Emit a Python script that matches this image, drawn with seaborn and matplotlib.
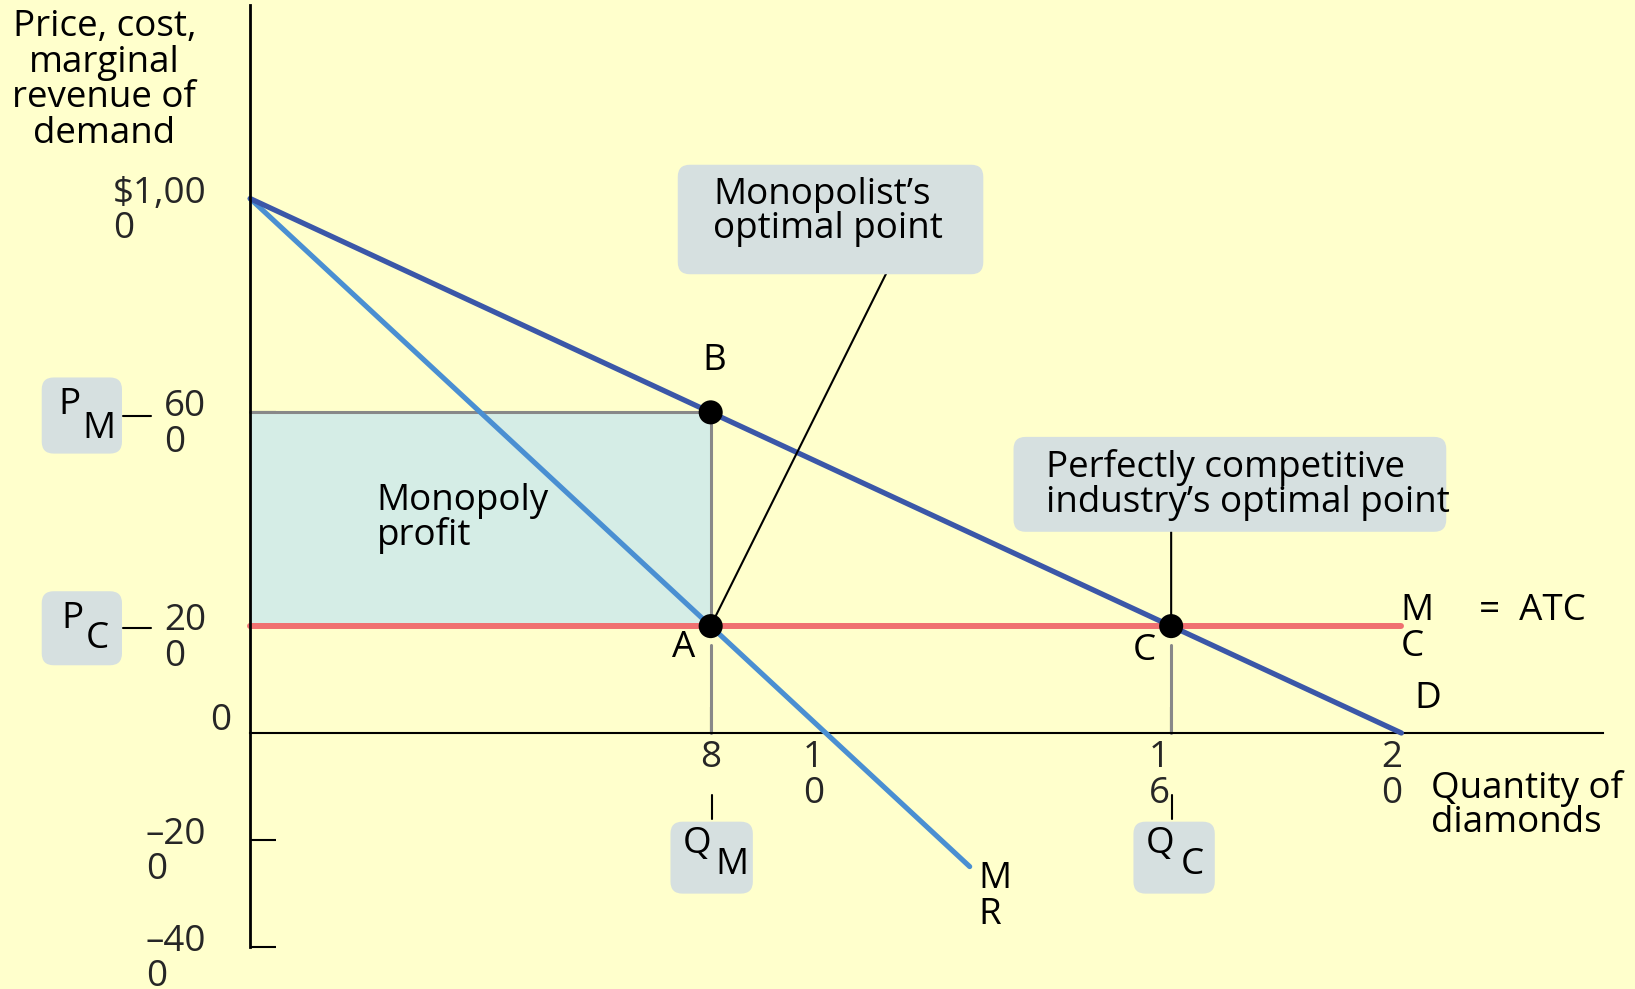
import matplotlib
matplotlib.use("Agg")
import matplotlib.pyplot as plt
import seaborn as sns
import pandas as pd
from matplotlib.patches import FancyBboxPatch
from matplotlib.lines import Line2D
from matplotlib.transforms import ScaledTranslation

# ---------------- data ----------------
demand_q = [0, 20]
demand_p = [1000, 0]
mr_q = [0, 12.5]
mr_p = [1000, -250]
mc_q = [0, 20]
mc_p = [200, 200]
profit_q = [0, 8]
profit_low = 200
profit_high = 600
point_labels = ["B", "A", "C"]
point_q = [8, 8, 16]
point_p = [600, 200, 200]
xtick_vals = [8, 10, 16, 20]
xtick_labels = ["8", "1\n0", "1\n6", "2\n0"]
ytick_vals = [1000, 600, 200, -200, -400]
ytick_labels = ["\\$1,00\n0", "60\n0", "20\n0", "\u201320\n0", "\u201340\n0"]

# ---------------- style ----------------
BG = "#ffffcc"
D_COL = "#3b57a8"
MR_COL = "#4a8fd2"
MC_COL = "#f07070"
FILL = "#d5ede6"
BOX = "#d6e0e0"
GREY = "#888888"

sns.set_theme(style="white")
plt.rcParams["font.family"] = ["Open Sans", "DejaVu Sans"]
FS = 26.5

W, H = 16.35, 9.89
fig = plt.figure(figsize=(W, H), dpi=100, facecolor=BG)
ax = fig.add_axes([0, 0, 1, 1])
ax.set_facecolor(BG)

# geometry (full px): q=0 at 250.2, unit 57.56 px ; p=0 at 733, 0.5344 px/unit
X0, XU = 250.2, 57.56
Y0, YU = 733.0, 0.5344
ax.set_xlim(-X0 / XU, (1635 - X0) / XU)
ax.set_ylim(-(989 - Y0) / YU, Y0 / YU)

S = 1635 / 1568 / 100.0  # inches per reference px


def fi(xs, ys):
    return xs * S, H - ys * S


def T(xs, ys, s, ha="left", va="top", **kw):
    x, y = fi(xs, ys)
    fig.text(x, y, s, ha=ha, va=va, fontsize=kw.pop("fontsize", FS),
             transform=fig.dpi_scale_trans, color="black", **kw)


def box(x1, y1, x2, y2, r=0.12):
    x, yb = fi(x1, y2)
    w = (x2 - x1) * S
    h = (y2 - y1) * S
    p = FancyBboxPatch((x, yb), w, h, boxstyle=f"round,pad=0,rounding_size={r}",
                       transform=fig.dpi_scale_trans, facecolor=BOX,
                       edgecolor="none", zorder=1)
    fig.add_artist(p)


def fline(x1, y1, x2, y2, lw=1.5, color="black"):
    a, b = fi(x1, y1)
    c, d = fi(x2, y2)
    fig.add_artist(Line2D([a, c], [b, d], transform=fig.dpi_scale_trans,
                          color=color, lw=lw, zorder=2))


# profit area
ax.fill_between(profit_q, profit_low, profit_high, color=FILL, lw=0, zorder=1)

# grey guide lines
ax.plot([0, point_q[0]], [profit_high, profit_high], color=GREY, lw=2.2, zorder=2)
ax.plot([point_q[0], point_q[0]], [profit_high, profit_low], color=GREY, lw=2.2, zorder=2)
ax.plot([point_q[1], point_q[1]], [165, 0], color=GREY, lw=2.2, zorder=2)
ax.plot([point_q[2], point_q[2]], [165, 0], color=GREY, lw=2.2, zorder=2)

# curves
sns.lineplot(x=mc_q, y=mc_p, ax=ax, color=MC_COL, lw=4.3, zorder=3)
sns.lineplot(x=mr_q, y=mr_p, ax=ax, color=MR_COL, lw=3.7, zorder=4)
sns.lineplot(x=demand_q, y=demand_p, ax=ax, color=D_COL, lw=3.8, zorder=5)

# points
pts = pd.DataFrame({"q": point_q, "p": point_p, "lab": point_labels})
sns.scatterplot(data=pts, x="q", y="p", ax=ax, color="black", s=300,
                edgecolor="none", zorder=7)
ax.set_xlabel("")
ax.set_ylabel("")

# leader lines
ax.annotate("", xy=(point_q[1], point_p[1]), xycoords="data",
            xytext=fi(850, 262), textcoords=fig.dpi_scale_trans,
            arrowprops=dict(arrowstyle="-", lw=1.5, color="black",
                            shrinkA=0, shrinkB=0), zorder=6)
ax.annotate("", xy=(point_q[2], point_p[2]), xycoords="data",
            xytext=(point_q[2], 377), textcoords="data",
            arrowprops=dict(arrowstyle="-", lw=1.5, color="black",
                            shrinkA=0, shrinkB=0), zorder=6)

# axes spines & ticks
for s in ["top", "right"]:
    ax.spines[s].set_visible(False)
ax.spines["left"].set_position(("data", 0))
ax.spines["bottom"].set_position(("data", 0))
ax.spines["left"].set_bounds(-400, 1362)
ax.spines["bottom"].set_bounds(0, 23.5)
ax.spines["left"].set_linewidth(2.0)
ax.spines["bottom"].set_linewidth(1.5)
ax.spines["left"].set_color("black")
ax.spines["bottom"].set_color("black")
ax.spines["left"].set_zorder(8)
ax.spines["bottom"].set_zorder(2)

ax.set_yticks([600, -200, -400])
ax.set_xticks([8, 16])
ax.tick_params(axis="both", direction="in", length=19, width=1.5, color="black",
               labelleft=False, labelbottom=False, left=True, bottom=True)

# y tick labels
for v, lab in zip(ytick_vals, ytick_labels):
    ax.text(-0.76, v + 43, lab, ha="right", va="top", multialignment="left",
            fontsize=FS, linespacing=0.98)
ax.text(-0.33, -12, "0", ha="right", va="bottom", fontsize=FS)

# x tick labels
x_nudge = [0, -12, -11, -9]
for v, lab, dx in zip(xtick_vals, xtick_labels, x_nudge):
    tr = ax.transData + ScaledTranslation(dx * S, 0, fig.dpi_scale_trans)
    ax.text(v, -14, lab, ha="center", va="top", fontsize=FS,
            linespacing=0.98, transform=tr)

# axis titles
T(100, 9, "Price, cost,\nmarginal\nrevenue of\ndemand", ha="center",
  multialignment="center", linespacing=0.98)
T(1372, 738, "Quantity of\ndiamonds", linespacing=0.95)

# curve / point labels
T(685, 329, "B", ha="center")
T(656, 604, "A", ha="center")
T(1097, 607, "C", ha="center")
T(1356, 653, "D")
T(938, 826, "M\nR", linespacing=1.0)
T(1343, 569, "M\nC", linespacing=1.0)
T(1418, 569, "=  ATC")
T(361, 463, "Monopoly\nprofit", linespacing=0.93)

# callout boxes
box(650, 158, 943, 263)
T(684, 170, "Monopolist\u2019s\noptimal point", linespacing=0.93)
box(972, 419, 1387, 510)
T(1003, 431, "Perfectly competitive\nindustry\u2019s optimal point", linespacing=0.93)

# P / Q boxes
box(40, 362, 117, 435)
T(56, 371, "P")
T(79, 394, "M")
fline(118, 399, 145, 399)
box(40, 567, 117, 638)
T(59, 576, "P")
T(82, 596, "C")
fline(118, 602, 145, 602)
box(643, 788, 722, 857)
T(655, 792, "Q")
T(686, 812, "M")
fline(683, 762, 683, 785)
box(1087, 788, 1165, 857)
T(1099, 792, "Q")
T(1132, 812, "C")
fline(1124, 762, 1124, 785)

fig.savefig("out.png", dpi=100, facecolor=BG)
